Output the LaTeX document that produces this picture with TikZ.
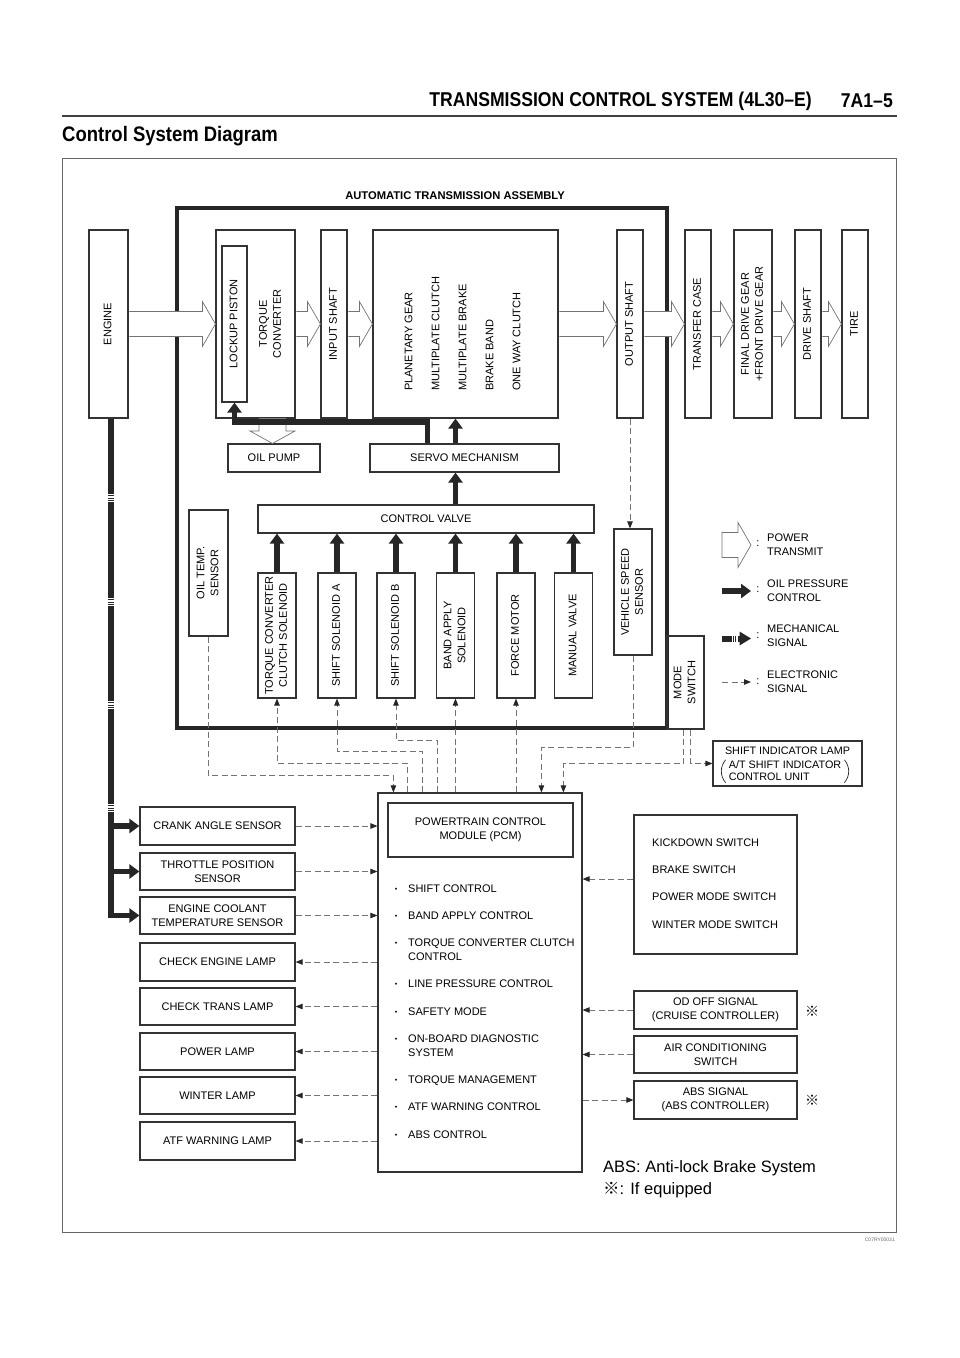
\documentclass[tikz,border=0pt]{standalone}
\usepackage{fontspec}
\setmainfont{Liberation Sans}
\newfontfamily\hdrfont[FakeStretch=0.88]{Liberation Sans}
\newfontfamily\cjk{Noto Sans CJK JP}
\usepackage{graphicx}
\usetikzlibrary{arrows.meta,calc}

\newcommand{\rotlbl}[1]{\rotatebox{90}{\begin{tabular}{@{}c@{}}#1\end{tabular}}}
\newcommand{\pwrarrow}[2]{\filldraw[hollow] let \p1=(#1.east), \p2=(#2.west) in
  (\x1+0.7pt,\y1+12.5pt) -- (\x2-13pt,\y1+12.5pt) -- (\x2-13pt,\y1+22.5pt) -- (\x2,\y1)
  -- (\x2-13pt,\y1-22.5pt) -- (\x2-13pt,\y1-12.5pt) -- (\x1+0.7pt,\y1-12.5pt);}

\begin{document}
\begin{tikzpicture}[x=1pt,y=-1pt,
		box/.style={draw=black!80, line width=1.2pt, inner sep=0pt, align=center, font=\fontsize{11}{14}\selectfont},
		lbl/.style={inner sep=0pt, font=\fontsize{11}{14}\selectfont},
		item/.style={lbl, anchor=west, text height=7.9pt, text depth=0pt},
		oil/.style={line width=5.5pt, black!85, -{Triangle[length=10pt,width=14pt]}},
		esig/.style={black!55, line width=0.8pt, dash pattern=on 6pt off 3.5pt, -{Triangle[length=7pt,width=5.5pt,color=black!85]}},
		hollow/.style={draw=black!55, fill=white, line width=0.7pt}
		]
		\useasboundingbox (0,0) rectangle (960,1358);
		\node[lbl, anchor=east, font=\hdrfont\bfseries\fontsize{20}{22}\selectfont] (hdr) at (812,101) {TRANSMISSION CONTROL SYSTEM (4L30–E)};
		\node[lbl, anchor=east, font=\hdrfont\bfseries\fontsize{20}{22}\selectfont] (pg) at (893,101) {7A1–5};
		\draw[line width=2pt, black!75] (62,116) -- (897,116);
		\node[lbl, anchor=west, font=\hdrfont\bfseries\fontsize{21}{24}\selectfont] (title) at (62,136) {Control System Diagram};
		\draw[black!60, line width=0.9pt] (62,158) rectangle (896,1232);
		\node[lbl, anchor=east, font=\fontsize{5}{6}\selectfont, text=black!60] (code) at (895,1240) {C07RY00031};

		\node[lbl, font=\bfseries\fontsize{11.2}{13}\selectfont] (atatitle) at (455,196) {AUTOMATIC TRANSMISSION ASSEMBLY};
		\draw[line width=4pt, black!85] (177,208) rectangle (667,728);

		\node[box, minimum width=39, minimum height=188] (engine) at (108.5,324) {\rotlbl{ENGINE}};
		\node[box, minimum width=79, minimum height=188] (tc) at (255.5,324) {};
		\node[box, minimum width=25, minimum height=156] (lockup) at (234.5,324) {\rotlbl{LOCKUP PISTON}};
		\node[lbl] (tctext) at (271,324) {\rotlbl{TORQUE\\CONVERTER}};
		\node[box, minimum width=26, minimum height=188] (input) at (334,324) {\rotlbl{INPUT SHAFT}};
		\node[box, minimum width=185, minimum height=188] (planet) at (465.5,324) {};
		\node[lbl, anchor=south] (planettext) at (463.5,391) {\rotatebox{90}{\begin{tabular}{@{}l@{}}PLANETARY GEAR\\[13pt]MULTIPLATE CLUTCH\\[13pt]MULTIPLATE BRAKE\\[13pt]BRAKE BAND\\[13pt]ONE WAY CLUTCH\end{tabular}}};
		\node[box, minimum width=26, minimum height=188] (output) at (630,324) {\rotlbl{OUTPUT SHAFT}};
		\node[box, minimum width=26, minimum height=188] (transfer) at (698,324) {\rotlbl{TRANSFER CASE}};
		\node[box, minimum width=38, minimum height=188] (final) at (753,324) {\rotlbl{FINAL DRIVE GEAR\\+FRONT DRIVE GEAR}};
		\node[box, minimum width=26, minimum height=188] (drive) at (808,324) {\rotlbl{DRIVE SHAFT}};
		\node[box, minimum width=26, minimum height=188] (tire) at (855,324) {\rotlbl{TIRE}};

		\node[box, minimum width=92, minimum height=28] (pump) at (274,458) {OIL PUMP};
		\node[box, minimum width=189, minimum height=28] (servo) at (464.5,458) {SERVO MECHANISM};
		\node[box, minimum width=336, minimum height=28] (cv) at (426,519) {CONTROL VALVE};
		\node[box, minimum width=39, minimum height=126] (oiltemp) at (208.5,573) {\rotlbl{OIL TEMP.\\SENSOR}};
		\node[box, minimum width=38, minimum height=125] (tcc) at (277,635.5) {\rotlbl{TORQUE CONVERTER\\CLUTCH SOLENOID}};
		\node[box, minimum width=38, minimum height=125] (sha) at (337,635.5) {\rotlbl{SHIFT SOLENOID A}};
		\node[box, minimum width=38, minimum height=125] (shb) at (396,635.5) {\rotlbl{SHIFT SOLENOID B}};
		\node[box, minimum width=38, minimum height=125] (band) at (455.5,635.5) {\rotlbl{BAND APPLY\\SOLENOID}};
		\node[box, minimum width=38, minimum height=125] (force) at (516,635.5) {\rotlbl{FORCE MOTOR}};
		\node[box, minimum width=38, minimum height=125] (manual) at (573.5,635.5) {\rotlbl{MANUAL VALVE}};
		\node[box, minimum width=38, minimum height=126] (vss) at (633,592) {\rotlbl{VEHICLE SPEED\\SENSOR}};
		\node[box, minimum width=37, minimum height=93] (mode) at (685.5,682.5) {\rotlbl{MODE\\SWITCH}};

		\node[box, minimum width=204, minimum height=379] (pcm) at (480,982.5) {};
		\node[box, line width=1.8pt, minimum width=185, minimum height=54] (pcmname) at (480.5,830) {POWERTRAIN CONTROL\\MODULE (PCM)};
		\foreach \yy/\tx in {889/SHIFT CONTROL, 916/BAND APPLY CONTROL, 943/TORQUE CONVERTER CLUTCH, 984/LINE PRESSURE CONTROL, 1012/SAFETY MODE, 1039/ON-BOARD DIAGNOSTIC, 1080/TORQUE MANAGEMENT, 1107/ATF WARNING CONTROL, 1135/ABS CONTROL} {
			\node[lbl, font=\fontsize{7}{8}\selectfont] (dot\yy) at (396,\yy+1) {\textbullet};
			\node[item] (it\yy) at (408,\yy) {\tx};
		}
		\node[item] (it957) at (408,957) {CONTROL};
		\node[item] (it1053) at (408,1053) {SYSTEM};

		\node[box, minimum width=155, minimum height=38] (crank) at (217.5,826) {CRANK ANGLE SENSOR};
		\node[box, minimum width=155, minimum height=37] (throttle) at (217.5,871.5) {THROTTLE POSITION\\SENSOR};
		\node[box, minimum width=155, minimum height=37] (ect) at (217.5,915.5) {ENGINE COOLANT\\TEMPERATURE SENSOR};
		\node[box, minimum width=155, minimum height=38] (ceng) at (217.5,962) {CHECK ENGINE LAMP};
		\node[box, minimum width=155, minimum height=37] (ctrans) at (217.5,1006.5) {CHECK TRANS LAMP};
		\node[box, minimum width=155, minimum height=37] (plamp) at (217.5,1051.5) {POWER LAMP};
		\node[box, minimum width=155, minimum height=37] (wlamp) at (217.5,1095.5) {WINTER LAMP};
		\node[box, minimum width=155, minimum height=38] (atf) at (217.5,1141) {ATF WARNING LAMP};

		\node[box, minimum width=163, minimum height=139] (switches) at (715.5,884.5) {};
		\node[item] (kd) at (652,843) {KICKDOWN SWITCH};
		\node[item] (bs) at (652,870) {BRAKE SWITCH};
		\node[item] (pms) at (652,897) {POWER MODE SWITCH};
		\node[item] (wms) at (652,925) {WINTER MODE SWITCH};
		\node[box, minimum width=163, minimum height=38] (odoff) at (715.5,1010) {OD OFF SIGNAL\\(CRUISE CONTROLLER)};
		\node[box, minimum width=163, minimum height=37] (aircon) at (715.5,1054.5) {AIR CONDITIONING\\SWITCH};
		\node[box, minimum width=163, minimum height=38] (abs) at (715.5,1100) {ABS SIGNAL\\(ABS CONTROLLER)};
		\node[lbl, font=\cjk\fontsize{14}{15}\selectfont] (mk1) at (812,1011) {※};
		\node[lbl, font=\cjk\fontsize{14}{15}\selectfont] (mk2) at (812,1100) {※};
		\node[box, minimum width=149, minimum height=45] (shiftind) at (787.5,763.5) {};
		\node[lbl, font=\fontsize{10.8}{12}\selectfont] (silamp) at (787.5,750.5) {SHIFT INDICATOR LAMP};
		\node[lbl, align=left, font=\fontsize{10.8}{12}\selectfont] (siunit) at (785,771) {A/T SHIFT INDICATOR\\CONTROL UNIT};
		\draw[black!85, line width=0.7pt] ([shift={(-3,-1)}]siunit.north west) to[bend right=40] ([shift={(-3,1.5)}]siunit.south west);
		\draw[black!85, line width=0.7pt] ([shift={(3,-1)}]siunit.north east) to[bend left=40] ([shift={(3,1.5)}]siunit.south east);

		\node[lbl, anchor=west, font=\fontsize{16.5}{18}\selectfont] (absnote) at (603,1168) {ABS: Anti-lock Brake System};
		\node[lbl, anchor=west, font=\fontsize{16.5}{18}\selectfont] (eqnote) at (603,1190) {{\cjk ※}: If equipped};

		\pwrarrow{engine}{tc}
		\pwrarrow{tc}{input}
		\pwrarrow{input}{planet}
		\pwrarrow{planet}{output}
		\pwrarrow{output}{transfer}
		\pwrarrow{transfer}{final}
		\pwrarrow{final}{drive}
		\pwrarrow{drive}{tire}
		\filldraw[hollow] (259,418.6) -- (259,431) -- (250,431) -- (272.5,443.5) -- (295,431) -- (286,431) -- (286,418.6);

		\draw[oil] ([xshift=58]servo.north west) -- ++(0,-21.5) -| (lockup.south);
		\draw[oil] (band.north |- servo.north) -- (band.north |- planet.south);
		\draw[oil] (band.north |- cv.north) -- (band.north |- servo.south);
		\draw[oil] (tcc.north) -- (tcc.north |- cv.south);
		\draw[oil] (sha.north) -- (sha.north |- cv.south);
		\draw[oil] (shb.north) -- (shb.north |- cv.south);
		\draw[oil] (band.north) -- (band.north |- cv.south);
		\draw[oil] (force.north) -- (force.north |- cv.south);
		\draw[oil] (manual.north) -- (manual.north |- cv.south);

		\coordinate (eng) at ([xshift=2.5]engine.south);
		\draw[oil] (eng) |- (ect.west);
		\draw[oil] (eng |- crank.west) -- (crank.west);
		\draw[oil] (eng |- throttle.west) -- (throttle.west);
		\foreach \yy in {498,602,705,808} {
			\fill[white] (107,\yy-4) rectangle (115,\yy+4);
			\foreach \dd in {-2.6,0,2.6}
				\draw[black!85, line width=0.7pt] (108.2,\yy+\dd) -- (113.8,\yy+\dd);
		}

		\draw[esig] (output.south) -- (output.south |- vss.north);
		\draw[esig] (oiltemp.south) -- ++(0,139) -| ([xshift=16]pcm.north west);
		\draw[esig] ([xshift=30]pcm.north west) -- ++(0,-29) -| (tcc.south);
		\draw[esig] ([xshift=45]pcm.north west) -- ++(0,-41) -| (sha.south);
		\draw[esig] ([xshift=60]pcm.north west) -- ++(0,-52) -| (shb.south);
		\draw[esig] (band.south |- pcm.north) -- (band.south);
		\draw[esig] (force.south |- pcm.north) -- (force.south);
		\draw[esig] (vss.south) -- ++(0,92) -| ([xshift=164]pcm.north west);
		\draw[esig] ([xshift=-2]mode.south) -- ++(0,34) -| ([xshift=186]pcm.north west);
		\draw[esig] ([xshift=5]mode.south) |- (shiftind.west);

		\draw[esig] (crank.east) -- (crank.east -| pcm.west);
		\draw[esig] (throttle.east) -- (throttle.east -| pcm.west);
		\draw[esig] (ect.east) -- (ect.east -| pcm.west);
		\draw[esig] (ceng.east -| pcm.west) -- (ceng.east);
		\draw[esig] (ctrans.east -| pcm.west) -- (ctrans.east);
		\draw[esig] (plamp.east -| pcm.west) -- (plamp.east);
		\draw[esig] (wlamp.east -| pcm.west) -- (wlamp.east);
		\draw[esig] (atf.east -| pcm.west) -- (atf.east);
		\coordinate (swin) at ([yshift=5.5]switches.west);
		\draw[esig] (swin) -- (swin -| pcm.east);
		\draw[esig] (odoff.west) -- (odoff.west -| pcm.east);
		\draw[esig] (aircon.west) -- (aircon.west -| pcm.east);
		\draw[esig] (abs.west -| pcm.east) -- (abs.west);

		\filldraw[hollow] (722,532.5) -- (738,532.5) -- (738,522.5) -- (751,545) -- (738,567.5) -- (738,557.5) -- (722,557.5) -- cycle;
		\draw[oil] (722,591) -- (751,591);
		\fill[black!85] (722,635.5) rectangle (732,641.5);
		\draw[black!85, line width=0.8pt] (733.8,635.5) -- (733.8,641.5);
		\draw[black!85, line width=0.8pt] (735.8,635.5) -- (735.8,641.5);
		\fill[black!85] (737.5,635.5) rectangle (740,641.5);
		\fill[black!85] (739.5,631.5) -- (751,638.5) -- (739.5,645.5) -- cycle;
		\draw[esig] (722,682) -- (751,682);
		\node[lbl] (c1) at (758,544) {:};
		\node[lbl] (c2) at (758,590) {:};
		\node[lbl] (c3) at (758,636) {:};
		\node[lbl] (c4) at (758,682) {:};
		\node[lbl, anchor=west, align=left] (lg1) at (767,545) {POWER\\TRANSMIT};
		\node[lbl, anchor=west, align=left] (lg2) at (767,591) {OIL PRESSURE\\CONTROL};
		\node[lbl, anchor=west, align=left] (lg3) at (767,636) {MECHANICAL\\SIGNAL};
		\node[lbl, anchor=west, align=left] (lg4) at (767,682) {ELECTRONIC\\SIGNAL};
	\end{tikzpicture}
\end{document}
